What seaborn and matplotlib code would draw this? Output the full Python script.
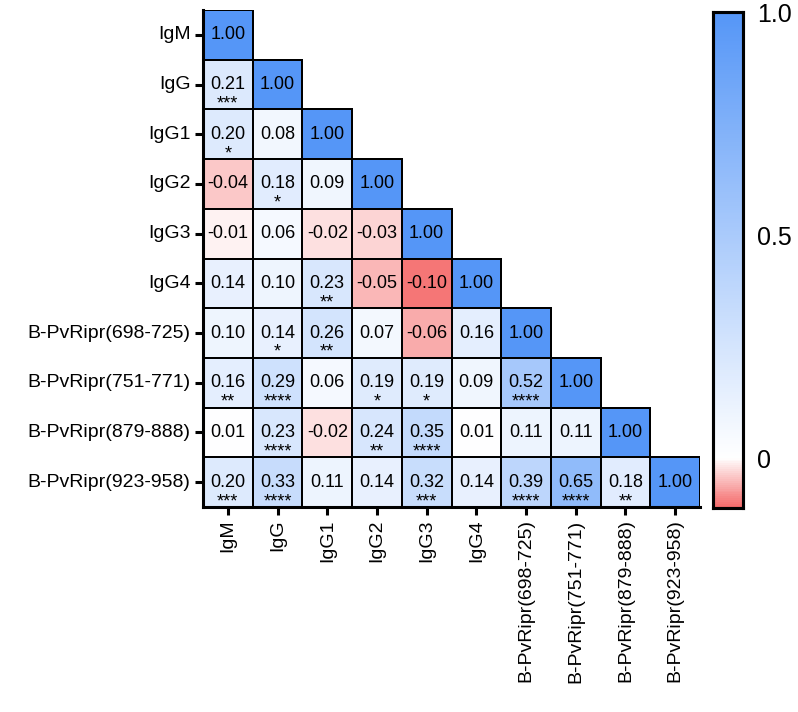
import numpy as np
import pandas as pd
import matplotlib
matplotlib.use("Agg")
import matplotlib.pyplot as plt
from matplotlib.colors import LinearSegmentedColormap
import seaborn as sns

labels = ["IgM", "IgG", "IgG1", "IgG2", "IgG3", "IgG4",
          "B-PvRipr(698-725)", "B-PvRipr(751-771)",
          "B-PvRipr(879-888)", "B-PvRipr(923-958)"]

row_IgM = [1.00]
row_IgG = [0.21, 1.00]
row_IgG1 = [0.20, 0.08, 1.00]
row_IgG2 = [-0.04, 0.18, 0.09, 1.00]
row_IgG3 = [-0.01, 0.06, -0.02, -0.03, 1.00]
row_IgG4 = [0.14, 0.10, 0.23, -0.05, -0.10, 1.00]
row_698 = [0.10, 0.14, 0.26, 0.07, -0.06, 0.16, 1.00]
row_751 = [0.16, 0.29, 0.06, 0.19, 0.19, 0.09, 0.52, 1.00]
row_879 = [0.01, 0.23, -0.02, 0.24, 0.35, 0.01, 0.11, 0.11, 1.00]
row_923 = [0.20, 0.33, 0.11, 0.14, 0.32, 0.14, 0.39, 0.65, 0.18, 1.00]

stars_IgM = [""]
stars_IgG = ["***", ""]
stars_IgG1 = ["*", "", ""]
stars_IgG2 = ["", "*", "", ""]
stars_IgG3 = ["", "", "", "", ""]
stars_IgG4 = ["", "", "**", "", "", ""]
stars_698 = ["", "*", "**", "", "", "", ""]
stars_751 = ["**", "****", "", "*", "*", "", "****", ""]
stars_879 = ["", "****", "", "**", "****", "", "", "", ""]
stars_923 = ["***", "****", "", "", "***", "", "****", "****", "**", ""]

rows = [row_IgM, row_IgG, row_IgG1, row_IgG2, row_IgG3, row_IgG4,
        row_698, row_751, row_879, row_923]
stars = [stars_IgM, stars_IgG, stars_IgG1, stars_IgG2, stars_IgG3, stars_IgG4,
         stars_698, stars_751, stars_879, stars_923]

n = len(labels)
mat = np.full((n, n), np.nan)
for i, r in enumerate(rows):
    mat[i, :len(r)] = r
df = pd.DataFrame(mat, index=labels, columns=labels)
mask = np.isnan(mat)

vmin, vmax = -0.11, 1.0
c0 = (0 - vmin) / (vmax - vmin)
cmap = LinearSegmentedColormap.from_list(
    "rb", [(0.0, "#F46A6A"), (c0, "#FFFFFF"), (1.0, "#5596F7")])

sns.set_style("white")
plt.rcParams["font.family"] = ["Liberation Sans", "DejaVu Sans"]

fig = plt.figure(figsize=(7.98, 7.12), dpi=100)
ax = fig.add_axes([203/798, 1 - 507/712, 497/798, 497/712])
cax = fig.add_axes([713/798, 1 - 508/712, 30/798, 496/712])

sns.heatmap(df, mask=mask, cmap=cmap, vmin=vmin, vmax=vmax, ax=ax, cbar_ax=cax,
            linewidths=1.3, linecolor="black", square=False, annot=False)

# hide edges of masked (upper-triangle) cells
mesh = ax.collections[0]
edge = np.zeros((n * n, 4))
edge[:, 3] = (~mask).ravel().astype(float)
mesh.set_edgecolor(edge)

for i in range(n):
    for j in range(len(rows[i])):
        s = stars[i][j]
        ax.text(j + 0.5, i + 0.5, f"{rows[i][j]:.2f}", ha="center", va="center",
                fontsize=13, color="black")
        if s:
            ax.text(j + 0.5, i + 0.89, s, ha="center", va="center",
                    fontsize=13, color="black")

ax.set_xticks(np.arange(n) + 0.5)
ax.set_yticks(np.arange(n) + 0.5)
ax.set_xticklabels(labels, rotation=90, fontsize=14)
ax.set_yticklabels(labels, rotation=0, fontsize=14)
ax.tick_params(axis="both", which="both", length=6, width=2.2, color="black",
               labelcolor="black", bottom=True, left=True, pad=3)
for side in ["left", "bottom"]:
    ax.spines[side].set_visible(True)
    ax.spines[side].set_linewidth(2.2)
    ax.spines[side].set_color("black")
ax.set_xlabel("")
ax.set_ylabel("")

cax.set_yticks([0, 0.5, 1.0])
cax.set_yticklabels(["0", "0.5", "1.0"], fontsize=18)
cax.tick_params(axis="y", left=True, right=True, direction="in", length=5,
                width=2, color="black", labelcolor="black", pad=10)
for sp in cax.spines.values():
    sp.set_visible(True)
    sp.set_linewidth(2.2)
    sp.set_color("black")

fig.savefig("out.png", dpi=100)
